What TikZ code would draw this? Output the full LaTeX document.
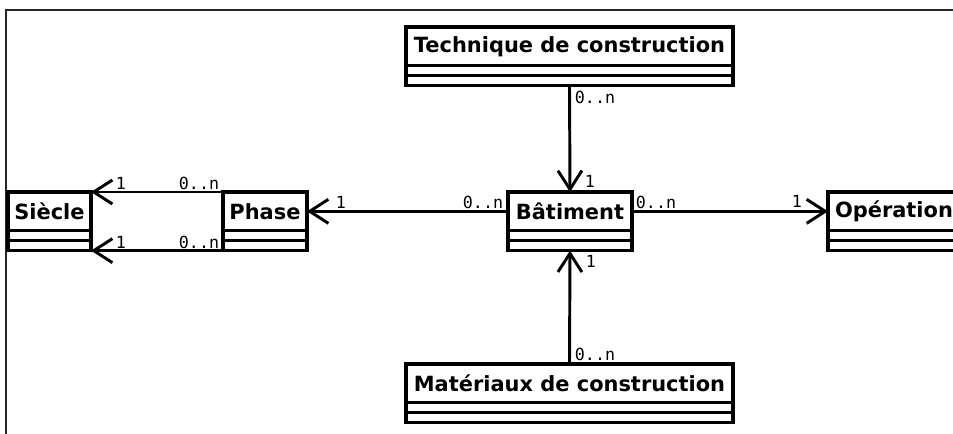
\documentclass[tikz,border=0pt]{standalone}
\usepackage{fontspec}
\setmainfont{DejaVu Sans}
\newfontfamily\lblfont{DejaVu Sans Mono}
\usetikzlibrary{arrows.meta,calc}

\tikzset{
  clshead/.style={draw, line width=2.4pt, minimum height=29pt, inner sep=0pt, outer sep=0pt,
    font=\bfseries\fontsize{15.7pt}{19pt}\selectfont},
  clscomp/.style={draw, line width=2.4pt, minimum height=15pt, inner sep=0pt, outer sep=0pt},
  clsline/.style={line width=2.4pt},
  assoc/.style={line width=2.2pt, -{Straight Barb[length=14pt,width=18pt,line width=2.2pt]}},
  mult/.style={inner sep=0pt, font=\lblfont\fontsize{12.5pt}{14pt}\selectfont},
  framerule/.style={line width=1.2pt, draw=black!85}
}

% one UML class: name, left, top, right, title
\newcommand\umlclass[5]{%
  \node[clshead, minimum width={(#4-#2)*0.75pt}, anchor=north west] (#1) at (#2,#3) {#5};
  \node[clscomp, minimum width={(#4-#2)*0.75pt}, anchor=north west] (#1-c) at (#1.south west) {};
  \draw[clsline] (#1-c.west) -- (#1-c.east);
}

\begin{document}
\begin{tikzpicture}[x=0.75pt, y=-0.75pt]
\useasboundingbox (0,0) rectangle (953,434);
\clip (0,0) rectangle (953,434);

% page frame
\draw[framerule] (6,440) -- (6,10) -- (960,10);

% classes
\umlclass{tech}{406}{27}{733}{Technique de construction}
\umlclass{bat}{508}{192}{632}{Bâtiment}
\umlclass{mat}{406}{364}{733}{Matériaux de construction}
\umlclass{phase}{223}{192}{307}{Phase}
\umlclass{siecle}{8}{192}{91}{Siècle}
\umlclass{op}{828}{192}{960}{Opération}

% associations
\draw[assoc] (tech-c.south) -- (bat.north);
\draw[assoc] (mat.north) -- (bat-c.south);
\draw[assoc] (bat.west) -- (phase.east);
\draw[assoc] (bat.east) -- (op.west);
\draw[assoc] (phase.north west) -- (siecle.north east);
\draw[assoc] (phase-c.south west) -- (siecle-c.south east);

% multiplicities
\node[mult] (m-tech-many) at (595,97) {0..n};
\node[mult] (m-tech-one) at (590,181) {1};
\node[mult] (m-mat-one) at (591,261) {1};
\node[mult] (m-mat-many) at (595,354) {0..n};
\node[mult] (m-ph-one) at (341,202) {1};
\node[mult] (m-ph-many) at (483,202) {0..n};
\node[mult] (m-op-many) at (656,202) {0..n};
\node[mult] (m-op-one) at (797,201) {1};
\node[mult] (m-s1-one) at (121,183) {1};
\node[mult] (m-s1-many) at (199,183) {0..n};
\node[mult] (m-s2-one) at (121,242) {1};
\node[mult] (m-s2-many) at (199,242) {0..n};
\end{tikzpicture}
\end{document}
